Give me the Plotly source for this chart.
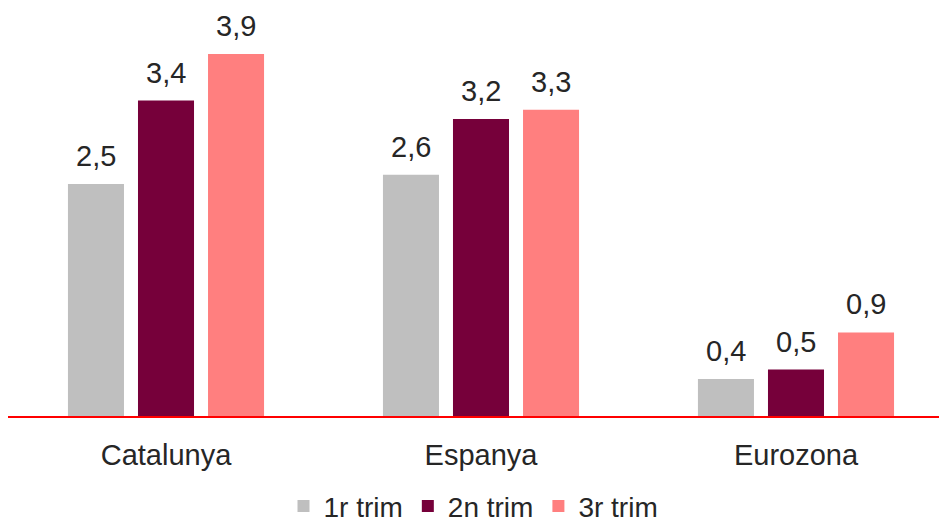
import plotly.graph_objects as go

categories = ["Catalunya", "Espanya", "Eurozona"]
series_names = ["1r trim", "2n trim", "3r trim"]
q1 = [2.5, 2.6, 0.4]
q2 = [3.4, 3.2, 0.5]
q3 = [3.9, 3.3, 0.9]
colors = ["#BFBFBF", "#76003A", "#FF7F7F"]

FONT = "Liberation Sans, Arial, sans-serif"
TEXTC = "#262626"

W, H = 939, 524
ML, MR, MT, MB = 8, 0, 0, 107.5
XR = [-0.5016, 2.454]
BARGAP = 0.333

fig = go.Figure()
series = [q1, q2, q3]
for name, vals, col in zip(series_names, series, colors):
    fig.add_trace(go.Bar(
        x=categories, y=vals, name=name,
        marker=dict(color=col, line=dict(width=0)),
        hoverinfo="skip",
    ))

# value labels placed above each bar
px_per_cat = (W - ML - MR) / (XR[1] - XR[0])
slot_px = (1 - BARGAP) / len(series) * px_per_cat
for i, vals in enumerate(series):
    off = (i - (len(series) - 1) / 2) * slot_px
    for cat, v in zip(categories, vals):
        fig.add_annotation(
            x=cat, y=v, xref="x", yref="y",
            text=f"{v:.1f}".replace(".", ","),
            showarrow=False, xanchor="center", yanchor="bottom",
            xshift=off, yshift=10,
            font=dict(size=29, color=TEXTC, family=FONT),
        )

fig.update_layout(
    width=W, height=H,
    margin=dict(l=ML, r=MR, t=MT, b=MB),
    paper_bgcolor="white", plot_bgcolor="white",
    barmode="group", bargap=BARGAP, bargroupgap=0.2,
    font=dict(family=FONT, size=29, color=TEXTC),
    showlegend=True,
    legend=dict(orientation="h", x=0.5, xanchor="center",
                yref="container", y=0.034, yanchor="middle",
                font=dict(size=28, color=TEXTC, family=FONT),
                bgcolor="rgba(0,0,0,0)"),
    xaxis=dict(type="category", range=XR,
               showline=True, linecolor="#FF0000", linewidth=2,
               showgrid=False, zeroline=False, ticks="",
               ticklabelstandoff=12,
               tickfont=dict(size=29, color=TEXTC, family=FONT)),
    yaxis=dict(range=[0, 4.483], visible=False, showgrid=False, zeroline=False),
)

fig.write_html("out.html")
